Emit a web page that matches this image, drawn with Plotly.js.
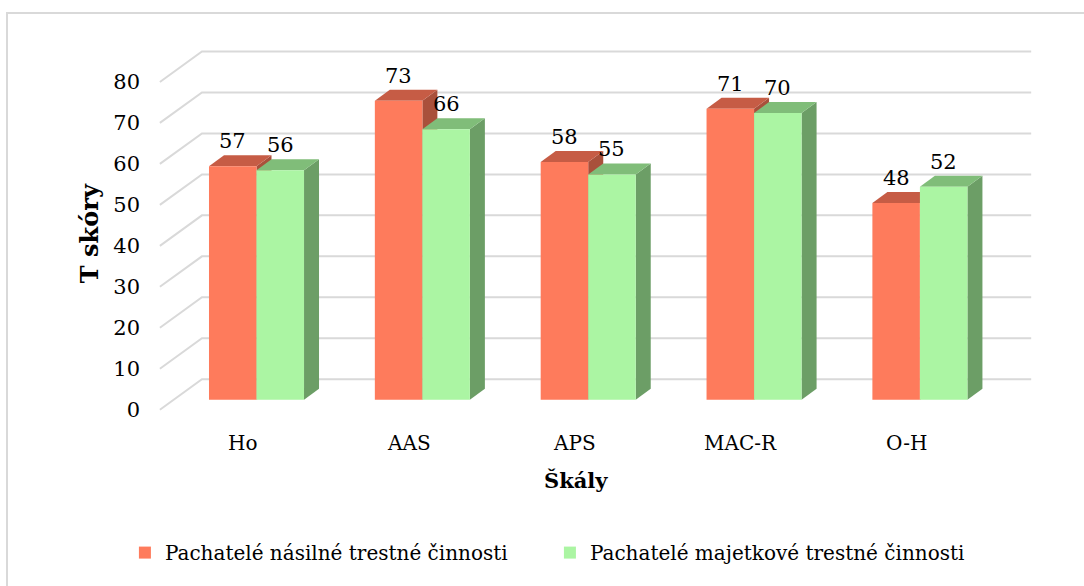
<!DOCTYPE html>
<html>
<head>
<meta charset="utf-8">
<script src="https://cdn.plot.ly/plotly-3.0.1.min.js"></script>
<style>
  html, body { margin: 0; padding: 0; background: #ffffff; }
  #frame { position: absolute; left: 6px; top: 12px; width: 1200px; height: 700px;
           border-left: 2px solid #d9d9d9; border-top: 2px solid #d9d9d9; }
  #chart { position: absolute; left: 0; top: 0; width: 1084px; height: 586px; }
</style>
</head>
<body>
<div id="frame"></div>
<div id="chart"></div>
<script>
// ---- data ----
const categories = ['Ho', 'AAS', 'APS', 'MAC-R', 'O-H'];
const violentValues = [57, 73, 58, 71, 48];
const propertyValues = [56, 66, 55, 70, 52];
const seriesNames = ['Pachatelé násilné trestné činnosti', 'Pachatelé majetkové trestné činnosti'];
const yTickValues = [0, 10, 20, 30, 40, 50, 60, 70, 80];
const xTitle = 'Škály';
const yTitle = 'T skóry';

// ---- style ----
const FONT = 'DejaVu Serif, serif';
const BARGAP = 0.427;
const BW = (1 - BARGAP) / 2;          // width of one bar (category units)
const DX = 0.0905, DY = 2.68;          // bar depth (x in category units, y in value units)
const WX = 0.171, WY = 5.0;            // back wall offset from bar plane
const FX = -0.0826, FY = -2.44;        // front plane offset from bar plane
const XR = [-0.6, 4.7], YR = [-3, 90];
const colors = {
  v: { front: '#fe7b5c', top: '#c65c45', side: '#a9503b' },
  p: { front: '#abf5a3', top: '#80bd79', side: '#6c9e66' }
};

const shapes = [];
// back wall gridlines + diagonal floor lines
yTickValues.forEach(v => {
  const x0 = -0.5 + FX, y0 = v + FY, x1 = -0.5 + WX, y1 = v + WY, x2 = 4.5 + WX;
  shapes.push({ type: 'path', xref: 'x', yref: 'y', layer: 'below',
    path: `M${x0},${y0} L${x1},${y1} L${x2},${y1}`,
    line: { color: '#d9d9d9', width: 2 } });
});
// 3D faces (drawn under the front faces of the bars)
categories.forEach((c, i) => {
  const items = [
    { v: violentValues[i], left: i - BW, right: i, col: colors.v },
    { v: propertyValues[i], left: i, right: i + BW, col: colors.p }
  ];
  items.forEach(it => {
    shapes.push({ type: 'path', xref: 'x', yref: 'y', layer: 'between',
      path: `M${it.right},0 L${it.right},${it.v} L${it.right + DX},${it.v + DY} L${it.right + DX},${DY} Z`,
      fillcolor: it.col.side, line: { width: 0 } });
    shapes.push({ type: 'path', xref: 'x', yref: 'y', layer: 'between',
      path: `M${it.left},${it.v} L${it.right},${it.v} L${it.right + DX},${it.v + DY} L${it.left + DX},${it.v + DY} Z`,
      fillcolor: it.col.top, line: { width: 0 } });
  });
});

const annotations = [];
// data labels
categories.forEach((c, i) => {
  [[violentValues[i], i - BW / 2], [propertyValues[i], i + BW / 2]].forEach(([v, x]) => {
    annotations.push({ x: x, y: v, xref: 'x', yref: 'y', text: String(v), showarrow: false,
      yanchor: 'middle', xanchor: 'center', yshift: 25,
      font: { family: FONT, size: 21, color: '#000' } });
  });
});
// category labels on the front plane of the 3D floor
categories.forEach((c, i) => {
  annotations.push({ x: i + FX, y: 0, xref: 'x', yref: 'paper', text: c, showarrow: false,
    yanchor: 'middle', xanchor: 'center', yshift: -31,
    font: { family: FONT, size: 20, color: '#000' } });
});
// axis titles
annotations.push({ xref: 'paper', yref: 'paper', x: 0.477, y: -0.18, text: '<b>' + xTitle + '</b>',
  showarrow: false, xanchor: 'center', yanchor: 'middle', font: { family: FONT, size: 21, color: '#000' } });
annotations.push({ xref: 'paper', yref: 'paper', x: -0.076, y: 0.47, text: '<b>' + yTitle + '</b>',
  showarrow: false, xanchor: 'center', yanchor: 'middle', textangle: -90,
  font: { family: FONT, size: 24, color: '#000' } });

const traces = [
  { type: 'bar', name: seriesNames[0], x: categories, y: violentValues,
    marker: { color: colors.v.front, line: { width: 0 } }, hoverinfo: 'x+y' },
  { type: 'bar', name: seriesNames[1], x: categories, y: propertyValues,
    marker: { color: colors.p.front, line: { width: 0 } }, hoverinfo: 'x+y' }
];

const layout = {
  width: 1084, height: 586,
  margin: { l: 157.1, r: 48.2, t: 31, b: 173.7, pad: 0 },
  paper_bgcolor: 'rgba(0,0,0,0)', plot_bgcolor: 'rgba(0,0,0,0)',
  barmode: 'group', bargap: BARGAP, bargroupgap: 0,
  font: { family: FONT, size: 20, color: '#000' },
  xaxis: { type: 'category', range: XR, showgrid: false, zeroline: false, showline: false,
    showticklabels: false, ticks: '', fixedrange: true },
  yaxis: { range: YR, showgrid: false, zeroline: false, showline: false,
    tickmode: 'array', tickvals: yTickValues, ticktext: yTickValues.map(String),
    ticks: '', ticklabelshift: 10, ticklabelstandoff: 16, tickfont: { family: FONT, size: 21, color: '#000' },
    fixedrange: true },
  showlegend: true,
  legend: { orientation: 'h', x: -0.0365, xanchor: 'left', y: -0.369, yanchor: 'middle',
    font: { family: FONT, size: 20, color: '#000' }, itemwidth: 30, entrywidth: 380,
    bgcolor: 'rgba(0,0,0,0)', borderwidth: 0 },
  shapes: shapes,
  annotations: annotations
};

Plotly.newPlot('chart', traces, layout, { displayModeBar: false, staticPlot: true });
</script>
</body>
</html>
